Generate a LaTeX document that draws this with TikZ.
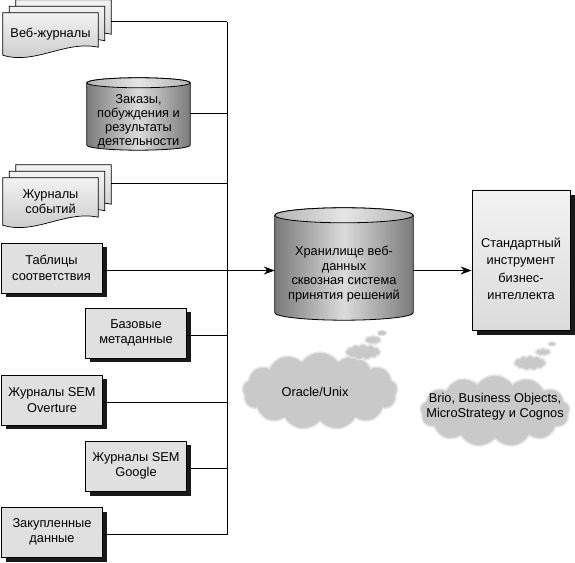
\documentclass[tikz,border=0pt]{standalone}
\usepackage{fontspec}
\setmainfont{Liberation Sans}
\usetikzlibrary{arrows.meta,shadows,shapes.symbols,backgrounds,calc}

\begin{document}
\begin{tikzpicture}[
  x=1pt, y=1pt,
  txt/.style={align=center, font=\fontsize{12.8}{15.5}\selectfont},
  src box/.style={rectangle, draw, line width=0.8pt, fill=black!12,
    minimum width=101pt, minimum height=50pt, inner sep=2pt,
    drop shadow={shadow xshift=4.5pt, shadow yshift=-4.5pt, fill=black!90, opacity=1}, txt},
  doc node/.style={rectangle, minimum width=95pt, inner sep=0pt, txt},
  sheet/.style={draw, line width=0.7pt, top color=black!5, bottom color=black!22},
  cyl node/.style={rectangle, inner sep=0pt},
  puff/.style={cloud, cloud puffs=13, cloud puff arc=110, cloud ignores aspect,
    inner sep=0pt, fill=black!21, draw=black!11, line width=1.5pt},
  link/.style={line width=1pt},
  flow/.style={line width=1pt, -{Stealth[length=11pt, width=8pt]}},
]
  \newcommand*{\ShiftY}{-2.5}

  % Stack of three sheets behind a document node
  \newcommand*{\DocStack}[1]{%
    \begin{scope}[on background layer]
      \foreach \o in {13, 6.5, 0} {
        \draw[sheet]
          ([shift={(\o,\o)}]#1.south west) -- ([shift={(\o,\o)}]#1.north west)
          -- ([shift={(\o,\o)}]#1.north east) -- ([shift={(\o,\o+8)}]#1.south east)
          .. controls ([shift={(\o-33,\o+15)}]#1.south east)
          and ([shift={(\o+32,\o-10)}]#1.south west) .. ([shift={(\o,\o)}]#1.south west)
          -- cycle;
      }
    \end{scope}
  }

  % Cylinder drawn into a named rectangle, #2 = half height of the ellipse
  \newcommand*{\DrawCyl}[2]{%
    \shadedraw[left color=black!52, right color=black!52, middle color=black!14, line width=0.8pt]
      let \p1=(#1.north west), \p2=(#1.south east), \n1={(\x2-\x1)/2} in
      (\x1,\y1-#2) -- (\x1,\y2+#2)
      arc[start angle=180, end angle=360, x radius=\n1, y radius=#2pt]
      -- (\x2,\y1-#2)
      arc[start angle=0, end angle=180, x radius=\n1, y radius=#2pt] -- cycle;
    \shadedraw[left color=black!30, right color=black!30, middle color=black!10, line width=0.8pt]
      let \p1=(#1.north west), \p2=(#1.south east), \n1={(\x2-\x1)/2} in
      ($(#1.north)+(0,-#2)$) ellipse[x radius=\n1, y radius=#2pt];
  }

  \useasboundingbox (0,0) rectangle (575,562);
  \coordinate (bus) at (227,0);

  % Source boxes, node names: tab, meta, over, goog, buy
  \foreach \nm/\xx/\yy/\txt in {
    tab/51.5/294/{Таблицы\\соответствия},
    meta/136/229/{Базовые\\метаданные},
    over/52/162/{Журналы SEM\\Overture},
    goog/136/96/{Журналы SEM\\Google},
    buy/52/30/{Закупленные\\данные}} {
    \node[src box] (\nm) at (\xx,\yy) {\txt};
    \coordinate (\nm-o) at ([yshift=\ShiftY]\nm.east);
  }

  % Document stacks
  \node[doc node, minimum height=42pt] (web) at (50.5,528) {Веб-журналы};
  \DocStack{web}
  \coordinate (web-r) at ([shift={(13,12)}]web.east);

  \node[doc node, minimum height=47pt] (ev) at (50.5,360.5) {Журналы\\событий};
  \DocStack{ev}
  \coordinate (ev-r) at ([shift={(13,17.5)}]ev.east);

  % Cylinders
  \node[cyl node, minimum width=103pt, minimum height=72pt] (ord) at (138.5,448) {};
  \DrawCyl{ord}{5}
  \node[txt, font=\fontsize{12.8}{14}\selectfont] (ord-t) at (138.5,441)
    {Заказы,\\побуждения и\\результаты\\деятельности};

  \node[cyl node, minimum width=138pt, minimum height=112pt] (dwh) at (344,298) {};
  \DrawCyl{dwh}{7.5}
  \node[txt, font=\fontsize{12.8}{14.7}\selectfont] (dwh-t) at (344,288)
    {Хранилище веб-\\данных\\сквозная система\\принятия решений};

  % BI tool
  \node[rectangle, draw, line width=0.8pt, top color=black!5, bottom color=black!14,
    minimum width=98pt, minimum height=140pt,
    drop shadow={shadow xshift=5pt, shadow yshift=-5pt, fill=black!90, opacity=1}]
    (bi) at (521,302) {};
  \node[txt, font=\fontsize{12.8}{17.5}\selectfont] (bi-t) at (521,293)
    {Стандартный\\инструмент\\бизнес-\\интеллекта};

  % Clouds
  \node[puff, minimum width=156pt, minimum height=78pt] (ora) at (320,171) {};
  \node[puff, minimum width=35pt, minimum height=16pt] (ora-p1) at (363,210) {};
  \node[puff, cloud puffs=9, minimum width=16pt, minimum height=9pt] (ora-p2) at (373,222) {};
  \node[puff, cloud puffs=7, minimum width=9pt, minimum height=6pt, line width=0.8pt] (ora-p3) at (382,229) {};
  \node[txt] (ora-t) at (315,170) {Oracle/Unix};

  \node[puff, minimum width=150pt, minimum height=72pt] (brio) at (495,151) {};
  \node[puff, minimum width=32pt, minimum height=15pt] (brio-p1) at (530,199) {};
  \node[puff, cloud puffs=9, minimum width=15pt, minimum height=8pt] (brio-p2) at (543,210) {};
  \node[puff, cloud puffs=7, minimum width=8pt, minimum height=5pt, line width=0.8pt] (brio-p3) at (552,218) {};
  \node[txt, font=\fontsize{12.8}{15}\selectfont] (brio-t) at (495,155)
    {Brio, Business Objects,\\MicroStrategy и Cognos};

  % Connectors to the bus
  \foreach \nm in {meta, over, goog, buy} {
    \draw[link] (\nm-o) -- (\nm-o -| bus);
  }
  \draw[link] (ord.east) -- (ord.east -| bus);
  \draw[link] (web-r) -- (web-r -| bus);
  \draw[link] (ev-r) -- (ev-r -| bus);
  \draw[link] (web-r -| bus) -- (buy-o -| bus);

  % Arrows
  \draw[flow] (tab-o) -- (tab-o -| dwh.west);
  \draw[flow] (tab-o -| dwh.east) -- (tab-o -| bi.west);
\end{tikzpicture}
\end{document}
